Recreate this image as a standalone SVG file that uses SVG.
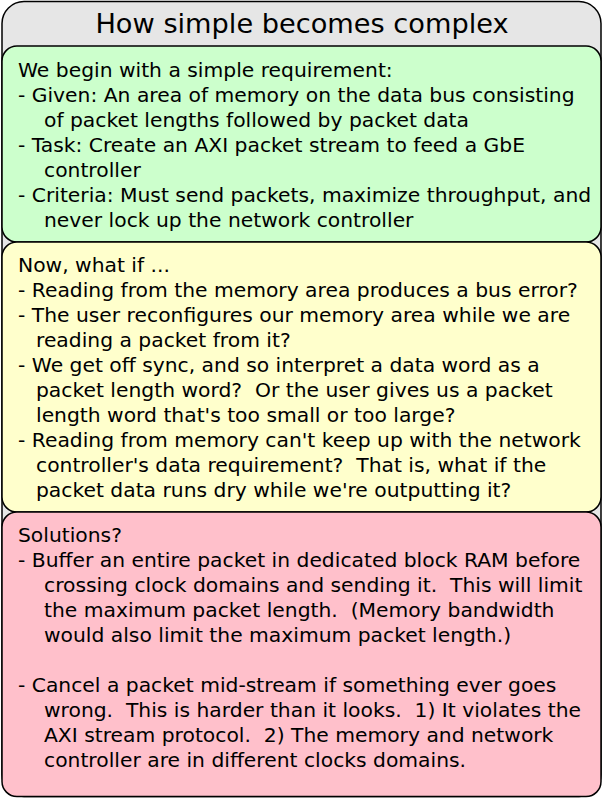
<svg xmlns="http://www.w3.org/2000/svg" width="603" height="802" viewBox="0 0 603 802">
<style>
.box{stroke:#000;stroke-width:1.5}
.t{font-family:"DejaVu Sans",sans-serif;font-size:20.3px;fill:#000;white-space:pre}
.title{font-family:"DejaVu Sans",sans-serif;font-size:27.2px;fill:#000;text-anchor:middle}
</style>
<rect width="603" height="802" fill="#fff"/>
<g id="outer">
<rect class="box" x="2" y="1.5" width="599" height="795" rx="22" ry="22" fill="#e6e6e6"/>
<text class="title" x="302" y="33">How simple becomes complex</text>
</g>
<g id="requirement">
<rect class="box" x="2" y="46" width="599" height="196" rx="15" ry="15" fill="#ccffcc"/>
<text class="t" x="18" y="77">We begin with a simple requirement:</text>
<text class="t" x="18" y="102">- Given: An area of memory on the data bus consisting</text>
<text class="t" x="44" y="127">of packet lengths followed by packet data</text>
<text class="t" x="18" y="152">- Task: Create an AXI packet stream to feed a GbE</text>
<text class="t" x="44" y="177">controller</text>
<text class="t" x="18" y="202">- Criteria: Must send packets, maximize throughput, and</text>
<text class="t" x="44" y="227">never lock up the network controller</text>
</g>
<g id="whatif">
<rect class="box" x="2" y="242" width="599" height="270" rx="15" ry="15" fill="#ffffcc"/>
<text class="t" x="18" y="272">Now, what if ...</text>
<text class="t" x="18" y="297">- Reading from the memory area produces a bus error?</text>
<text class="t" x="18" y="322">- The user reconfigures our memory area while we are</text>
<text class="t" x="36" y="347">reading a packet from it?</text>
<text class="t" x="18" y="372">- We get off sync, and so interpret a data word as a</text>
<text class="t" x="36" y="397" xml:space="preserve">packet length word?  Or the user gives us a packet</text>
<text class="t" x="36" y="422">length word that's too small or too large?</text>
<text class="t" x="18" y="447">- Reading from memory can't keep up with the network</text>
<text class="t" x="36" y="472" xml:space="preserve">controller's data requirement?  That is, what if the</text>
<text class="t" x="36" y="497">packet data runs dry while we're outputting it?</text>
</g>
<g id="solutions">
<rect class="box" x="2" y="512" width="599" height="284.5" rx="15" ry="15" fill="#ffc0cb"/>
<text class="t" x="18" y="542">Solutions?</text>
<text class="t" x="18" y="567">- Buffer an entire packet in dedicated block RAM before</text>
<text class="t" x="44" y="592" xml:space="preserve">crossing clock domains and sending it.  This will limit</text>
<text class="t" x="44" y="617" xml:space="preserve">the maximum packet length.  (Memory bandwidth</text>
<text class="t" x="44" y="642">would also limit the maximum packet length.)</text>
<text class="t" x="18" y="692">- Cancel a packet mid-stream if something ever goes</text>
<text class="t" x="44" y="717" xml:space="preserve">wrong.  This is harder than it looks.  1) It violates the</text>
<text class="t" x="44" y="742" xml:space="preserve">AXI stream protocol.  2) The memory and network</text>
<text class="t" x="44" y="767">controller are in different clocks domains.</text>
</g>
<g id="connectors"></g>
</svg>
